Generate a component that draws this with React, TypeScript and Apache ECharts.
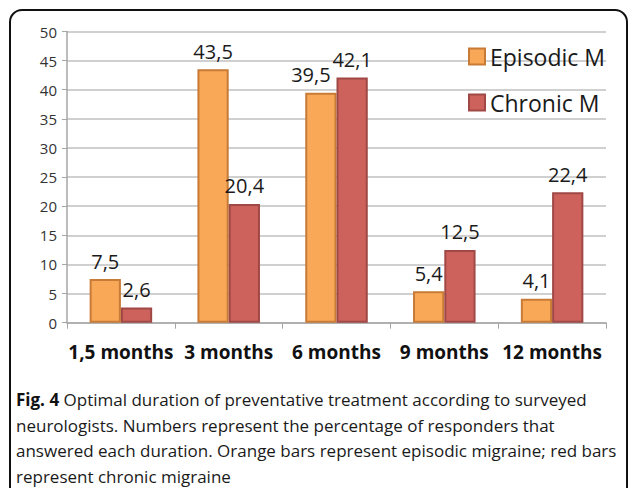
import React, { useEffect, useRef } from "react";
import * as echarts from "echarts";

const categories = ["1,5 months", "3 months", "6 months", "9 months", "12 months"];
const episodic = [7.5, 43.5, 39.5, 5.4, 4.1];
const chronic = [2.6, 20.4, 42.1, 12.5, 22.4];
const captionLines = [
  ["Fig. 4", " Optimal duration of preventative treatment according to surveyed"],
  ["", "neurologists. Numbers represent the percentage of responders that"],
  ["", "answered each duration. Orange bars represent episodic migraine; red bars"],
  ["", "represent chronic migraine"],
];

export default function App() {
  const ref = useRef<HTMLDivElement>(null);
  useEffect(() => {
    const chart = echarts.init(ref.current!, null, { renderer: "svg" });
    const fmt = (p: any) => String(p.value).replace(".", ",");
    const captionGraphics = captionLines.map((l, i) => ({
      type: "text",
      left: 16,
      top: 391 + i * 25.5,
      style: {
        text: (l[0] ? "{b|" + l[0] + "}" : "") + "{r|" + l[1] + "}",
        rich: {
          b: { fontFamily: "Open Sans", fontWeight: "bold", fontSize: 17, fill: "#111" },
          r: { fontFamily: "Open Sans", fontSize: 17, fill: "#1a1a1a" },
        },
      },
    }));
    const episodicData = episodic.map((v, i) =>
      i === 2 ? { value: v, label: { offset: [-10, 0] } } : v
    );
    chart.setOption({
      animation: false,
      backgroundColor: "#ffffff",
      textStyle: { fontFamily: "Open Sans" },
      grid: { left: 67, right: 23, top: 31.5, bottom: 165.3 },
      legend: {
        orient: "vertical",
        left: 463,
        top: 40,
        itemGap: 23,
        itemWidth: 16,
        itemHeight: 16,
        icon: "rect",
        textStyle: { fontSize: 23, color: "#1a1a1a", fontFamily: "Open Sans" },
        data: ["Episodic M", "Chronic M"],
      },
      xAxis: {
        type: "category",
        data: categories,
        axisLine: { lineStyle: { color: "#a6a6a6", width: 1.5 } },
        axisTick: { show: true, length: 6, lineStyle: { color: "#a6a6a6" } },
        axisLabel: {
          interval: 0,
          hideOverlap: false,
          fontSize: 19,
          fontWeight: "bold",
          color: "#111",
          margin: 20,
          fontFamily: "Open Sans",
        },
      },
      yAxis: {
        type: "value",
        min: 0,
        max: 50,
        interval: 5,
        axisLine: { show: true, lineStyle: { color: "#a6a6a6", width: 1.5 } },
        axisTick: { show: true, length: 5, lineStyle: { color: "#a6a6a6" } },
        splitLine: { lineStyle: { color: "#c0c0c0", width: 1.5 } },
        axisLabel: { fontSize: 15, color: "#333", margin: 10, fontFamily: "Open Sans" },
      },
      series: [
        {
          name: "Episodic M",
          type: "bar",
          data: episodicData,
          barGap: "0%",
          barCategoryGap: "42%",
          itemStyle: { color: "#F9A857", borderColor: "#C77B36", borderWidth: 2 },
          label: { show: true, position: "top", distance: 8, fontSize: 20, color: "#1a1a1a", formatter: fmt },
        },
        {
          name: "Chronic M",
          type: "bar",
          data: chronic,
          itemStyle: { color: "#CD625D", borderColor: "#A04845", borderWidth: 2 },
          label: { show: true, position: "top", distance: 8, fontSize: 20, color: "#1a1a1a", formatter: fmt },
        },
      ],
      graphic: [
        {
          type: "rect",
          shape: { x: 10, y: 10, width: 617, height: 520, r: 12 },
          style: { fill: "none", stroke: "#111", lineWidth: 2 },
          silent: true,
        },
        ...captionGraphics,
      ],
    });
    return () => chart.dispose();
  }, []);
  return (
    <div
      ref={ref}
      style={{ position: "fixed", left: 0, top: 0, width: 629, height: 488 }}
    />
  );
}
